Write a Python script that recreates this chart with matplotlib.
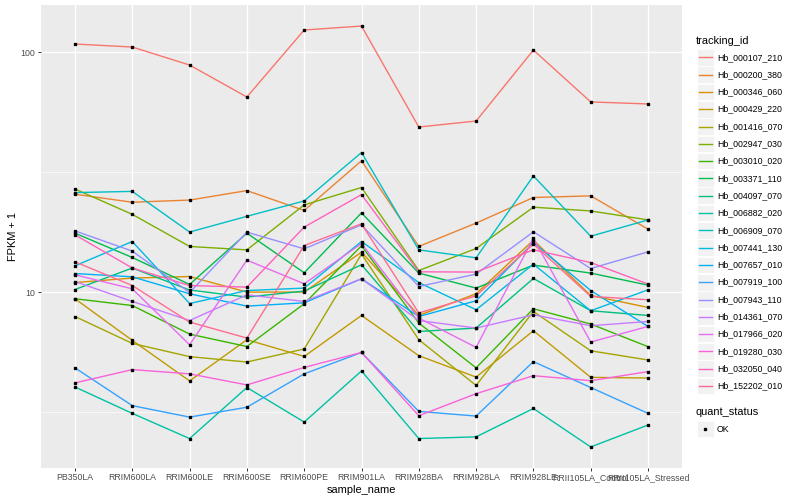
import matplotlib
matplotlib.use('Agg')
import matplotlib.pyplot as plt
import numpy as np
from matplotlib.lines import Line2D
from matplotlib.patches import Rectangle
from matplotlib.ticker import FixedLocator, NullFormatter

plt.rcParams['font.family'] = ['Liberation Sans', 'DejaVu Sans']

# categorias do eixo x
samples = ['PB350LA', 'RRIM600LA', 'RRIM600LE', 'RRIM600SE', 'RRIM600PE', 'RRIM901LA',
           'RRIM928BA', 'RRIM928LA', 'RRIM928LE', 'RRII105LA_Control', 'RRII105LA_Stressed']

# valores FPKM + 1, um por gene
Hb_000107_210 = [108.3, 105.2, 88.5, 65.1, 123.9, 128.7, 48.8, 51.7, 102.2, 62.1, 60.9]
Hb_000200_380 = [25.6, 23.7, 24.2, 26.5, 21.9, 35.3, 15.5, 19.4, 24.8, 25.2, 18.3]
Hb_000346_060 = [10.96, 11.44, 11.61, 10.0, 10.0, 14.68, 7.99, 9.84, 16.47, 9.68, 8.63]
Hb_000429_220 = [9.38, 6.29, 4.26, 6.33, 5.39, 7.99, 5.43, 4.42, 6.90, 4.41, 4.38]
Hb_001416_070 = [7.91, 6.11, 5.38, 5.11, 5.79, 14.4, 6.33, 4.08, 8.30, 5.69, 5.21]
Hb_002947_030 = [26.9, 21.1, 15.5, 15.0, 23.1, 27.3, 12.3, 15.2, 22.6, 21.8, 20.0]
Hb_003010_020 = [9.38, 8.79, 6.68, 5.93, 8.94, 15.6, 7.43, 4.83, 8.52, 7.36, 5.92]
Hb_003371_110 = [17.61, 13.94, 10.76, 17.61, 12.04, 21.4, 12.00, 10.39, 12.96, 12.00, 10.69]
Hb_004097_070 = [10.25, 12.6, 10.2, 9.53, 10.1, 13.0, 6.85, 7.08, 11.4, 8.36, 7.99]
Hb_006882_020 = [4.02, 3.12, 2.45, 4.00, 2.87, 4.69, 2.45, 2.49, 3.27, 2.26, 2.79]
Hb_006909_070 = [26.0, 26.3, 17.8, 20.7, 24.0, 38.2, 15.0, 13.9, 30.5, 17.1, 20.0]
Hb_007441_130 = [12.87, 16.25, 8.96, 10.15, 10.39, 16.25, 10.96, 8.44, 13.08, 8.36, 10.22]
Hb_007657_010 = [11.95, 11.58, 9.84, 8.74, 9.02, 11.36, 7.91, 9.20, 16.09, 10.15, 7.19]
Hb_007919_100 = [4.83, 3.36, 3.01, 3.31, 4.56, 5.60, 3.18, 3.04, 5.13, 4.00, 3.12]
Hb_007943_110 = [18.0, 14.82, 9.96, 17.78, 15.15, 19.07, 10.55, 11.89, 17.84, 12.54, 14.72]
Hb_014361_070 = [11.07, 9.14, 7.61, 9.74, 9.14, 11.36, 7.61, 7.08, 8.04, 7.24, 7.54]
Hb_017966_020 = [11.81, 10.32, 6.03, 13.59, 10.83, 15.94, 7.79, 5.88, 16.79, 6.19, 7.19]
Hb_019280_030 = [4.18, 4.75, 4.56, 4.10, 4.85, 5.60, 3.05, 3.77, 4.48, 4.27, 4.66]
Hb_032050_040 = [17.33, 12.6, 10.65, 10.49, 18.66, 25.5, 12.15, 12.12, 15.01, 13.28, 10.80]
Hb_152202_010 = [13.37, 10.65, 7.50, 6.43, 15.64, 19.26, 8.18, 9.65, 15.85, 9.59, 9.29]

tracking_ids = ['Hb_000107_210', 'Hb_000200_380', 'Hb_000346_060', 'Hb_000429_220',
                'Hb_001416_070', 'Hb_002947_030', 'Hb_003010_020', 'Hb_003371_110',
                'Hb_004097_070', 'Hb_006882_020', 'Hb_006909_070', 'Hb_007441_130',
                'Hb_007657_010', 'Hb_007919_100', 'Hb_007943_110', 'Hb_014361_070',
                'Hb_017966_020', 'Hb_019280_030', 'Hb_032050_040', 'Hb_152202_010']
series = [Hb_000107_210, Hb_000200_380, Hb_000346_060, Hb_000429_220, Hb_001416_070,
          Hb_002947_030, Hb_003010_020, Hb_003371_110, Hb_004097_070, Hb_006882_020,
          Hb_006909_070, Hb_007441_130, Hb_007657_010, Hb_007919_100, Hb_007943_110,
          Hb_014361_070, Hb_017966_020, Hb_019280_030, Hb_032050_040, Hb_152202_010]

# paleta hue do ggplot (20 cores)
cores = ['#F8766D', '#EA8331', '#D89000', '#C09B00', '#A3A500', '#7CAE00', '#39B600',
         '#00BB4E', '#00BF7D', '#00C1A3', '#00BFC4', '#00BAE0', '#00B0F6', '#35A2FF',
         '#9590FF', '#C77CFF', '#E76BF3', '#FA62DB', '#FF62BC', '#FF6C91']

W, H = 800, 500
fig = plt.figure(figsize=(8, 5), dpi=100)

def fx(px):
    return px / W

def fy(py):
    return 1 - py / H

# painel cinza estilo ggplot
ax = fig.add_axes([fx(40.6), fy(468), fx(682.4) - fx(40.6), fy(5) - fy(468)])
ax.set_facecolor('#EBEBEB')
for s in ax.spines.values():
    s.set_visible(False)

x = np.arange(len(samples))
for vals, c in zip(series, cores):
    ax.plot(x, vals, color=c, lw=1.0, zorder=3)
for vals in series:
    ax.plot(x, vals, ls='none', marker='s', ms=2.1, color='black', zorder=4)

ax.set_yscale('log')
todos = np.log10(np.concatenate([np.array(v) for v in series]))
lo, hi = todos.min(), todos.max()
pad = (hi - lo) * 0.05
ax.set_ylim(10 ** (lo - pad), 10 ** (hi + pad))
ax.set_xlim(-0.6, len(samples) - 0.4)

ax.yaxis.set_major_locator(FixedLocator([10, 100]))
ax.yaxis.set_minor_locator(FixedLocator([10 ** 0.5, 10 ** 1.5]))
ax.yaxis.set_minor_formatter(NullFormatter())
ax.set_yticklabels(['10', '100'])
ax.set_xticks(x)
ax.set_xticklabels(samples)

ax.grid(which='major', color='white', lw=1.0, zorder=1)
ax.grid(which='minor', axis='y', color='white', lw=0.5, zorder=1)
ax.set_axisbelow(True)
ax.tick_params(which='major', length=2.2, width=0.7, color='#333333',
               labelcolor='#4D4D4D', labelsize=6.3, pad=1.5)
ax.tick_params(which='minor', length=0)

ax.set_xlabel('sample_name', fontsize=7.9, labelpad=2)
ax.set_ylabel('FPKM + 1', fontsize=7.9, labelpad=2)

# legenda desenhada a mao
fig.text(fx(696), fy(40.5), 'tracking_id', fontsize=7.9, va='center', ha='left')
passo = 17.3
for i, (nome, c) in enumerate(zip(tracking_ids, cores)):
    yc = 57.3 + passo * i
    fig.patches.append(Rectangle((fx(697), fy(yc + 8.3)), fx(16.6), fy(0) - fy(16.6),
                                 transform=fig.transFigure, facecolor='#F2F2F2',
                                 edgecolor='white', lw=0.6))
    fig.lines.append(Line2D([fx(698.5), fx(712.3)], [fy(yc), fy(yc)], color=c, lw=1.0,
                            transform=fig.transFigure))
    fig.text(fx(717), fy(yc), nome, fontsize=6.3, va='center', ha='left')

fig.text(fx(696), fy(412.3), 'quant_status', fontsize=7.9, va='center', ha='left')
fig.patches.append(Rectangle((fx(697), fy(429 + 8.3)), fx(16.6), fy(0) - fy(16.6),
                             transform=fig.transFigure, facecolor='#F2F2F2',
                             edgecolor='white', lw=0.6))
fig.lines.append(Line2D([fx(705.3)], [fy(429)], marker='s', ms=2.1, color='black',
                        ls='none', transform=fig.transFigure))
fig.text(fx(717), fy(429), 'OK', fontsize=6.3, va='center', ha='left')

fig.savefig('out.png', dpi=100)
